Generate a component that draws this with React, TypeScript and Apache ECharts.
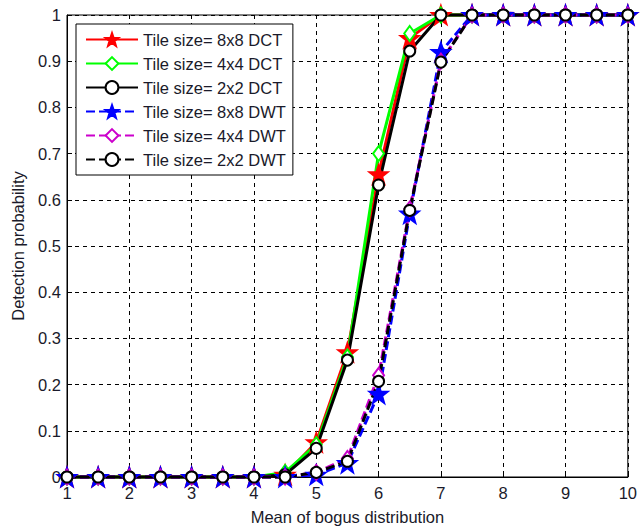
import React, { useEffect, useRef } from "react";
import * as echarts from "echarts";

const xValues = [1, 1.5, 2, 2.5, 3, 3.5, 4, 4.5, 5, 5.5, 6, 6.5, 7, 7.5, 8, 8.5, 9, 9.5, 10];
const dct8 = [0, 0, 0, 0, 0, 0, 0, 0.005, 0.075, 0.27, 0.655, 0.95, 1, 1, 1, 1, 1, 1, 1];
const dct4 = [0, 0, 0, 0, 0, 0, 0, 0.01, 0.07, 0.26, 0.7, 0.96, 1, 1, 1, 1, 1, 1, 1];
const dct2 = [0, 0, 0, 0, 0, 0, 0, 0.005, 0.062, 0.253, 0.632, 0.922, 1, 1, 1, 1, 1, 1, 1];
const dwt8 = [0, 0, 0, 0, 0, 0, 0, 0, 0.005, 0.03, 0.18, 0.57, 0.92, 1, 1, 1, 1, 1, 1];
const dwt4 = [0, 0, 0, 0, 0, 0, 0, 0, 0.01, 0.04, 0.22, 0.58, 0.9, 1, 1, 1, 1, 1, 1];
const dwt2 = [0, 0, 0, 0, 0, 0, 0, 0, 0.01, 0.034, 0.207, 0.577, 0.898, 1, 1, 1, 1, 1, 1];
const seriesNames = [
  "Tile size= 8x8 DCT",
  "Tile size= 4x4 DCT",
  "Tile size= 2x2 DCT",
  "Tile size= 8x8 DWT",
  "Tile size= 4x4 DWT",
  "Tile size= 2x2 DWT",
];

const STAR =
  "path://M0,-10 L2.35,-3.24 L9.51,-3.09 L3.8,1.24 L5.88,8.09 L0,4 L-5.88,8.09 L-3.8,1.24 L-9.51,-3.09 L-2.35,-3.24 Z";

export default function App() {
  const ref = useRef<HTMLDivElement>(null);
  useEffect(() => {
    document.body.style.margin = "0";
    const chart = echarts.init(ref.current!, null, { renderer: "svg" });
    const font = "Liberation Sans, Arial, sans-serif";
    const textColor = "#1a1a2a";
    const fs = 16.5;
    const pair = (arr: number[]) => xValues.map((x, i) => [x, arr[i]]);
    const mk = (
      name: string,
      arr: number[],
      color: string,
      symbol: string,
      size: number | number[],
      filled: boolean,
      dashed: boolean
    ) => ({
      name,
      type: "line",
      data: pair(arr),
      symbol,
      symbolSize: size,
      showAllSymbol: true,
      lineStyle: { color, width: 3, type: dashed ? [9, 4] : "solid" },
      itemStyle: { color: filled ? color : "#fff", borderColor: color, borderWidth: 2 },
      emphasis: { disabled: true },
      clip: false,
      z: 2,
    });
    chart.setOption({
      animation: false,
      backgroundColor: "#fff",
      grid: {
        left: 67,
        right: 4,
        top: 15,
        bottom: 50,
        show: true,
        borderColor: "#000",
        borderWidth: 1,
        backgroundColor: "#fff",
      },
      legend: {
        orient: "vertical",
        left: 76,
        top: 24,
        backgroundColor: "#fff",
        borderColor: "#000",
        borderWidth: 1,
        borderRadius: 0,
        padding: [7, 7, 7, 9],
        itemWidth: 52,
        itemHeight: 16,
        itemGap: 7,
        textStyle: { fontFamily: font, fontSize: fs, color: textColor },
        data: seriesNames,
      },
      xAxis: {
        type: "value",
        min: 1,
        max: 10,
        interval: 1,
        name: "Mean of bogus distribution",
        nameLocation: "middle",
        nameGap: 31,
        nameTextStyle: { fontFamily: font, fontSize: fs, color: textColor },
        axisLine: { lineStyle: { color: "#000" } },
        axisTick: { inside: true, length: 5, lineStyle: { color: "#000" } },
        axisLabel: { fontFamily: font, fontSize: fs, color: textColor, margin: 7 },
        splitLine: { show: true, lineStyle: { color: "#000", type: [4, 4], width: 1 } },
      },
      yAxis: {
        type: "value",
        min: 0,
        max: 1,
        interval: 0.1,
        name: "Detection probability",
        nameLocation: "middle",
        nameGap: 41,
        nameTextStyle: { fontFamily: font, fontSize: fs, color: textColor },
        axisLine: { show: true, lineStyle: { color: "#000" } },
        axisTick: { show: true, inside: true, length: 5, lineStyle: { color: "#000" } },
        axisLabel: { fontFamily: font, fontSize: fs, color: textColor, margin: 6 },
        splitLine: { show: true, lineStyle: { color: "#000", type: [4, 4], width: 1 } },
      },
      series: [
        mk(seriesNames[0], dct8, "#ff0000", STAR, 18, true, false),
        mk(seriesNames[1], dct4, "#00ff00", "diamond", [11, 15], false, false),
        mk(seriesNames[2], dct2, "#000000", "circle", 11, false, false),
        mk(seriesNames[3], dwt8, "#0000ff", STAR, 18, true, true),
        mk(seriesNames[4], dwt4, "#cc00cc", "diamond", [11, 15], false, true),
        mk(seriesNames[5], dwt2, "#000000", "circle", 11, false, true),
      ],
    });
    return () => chart.dispose();
  }, []);
  return <div ref={ref} style={{ width: 640, height: 530 }} />;
}
